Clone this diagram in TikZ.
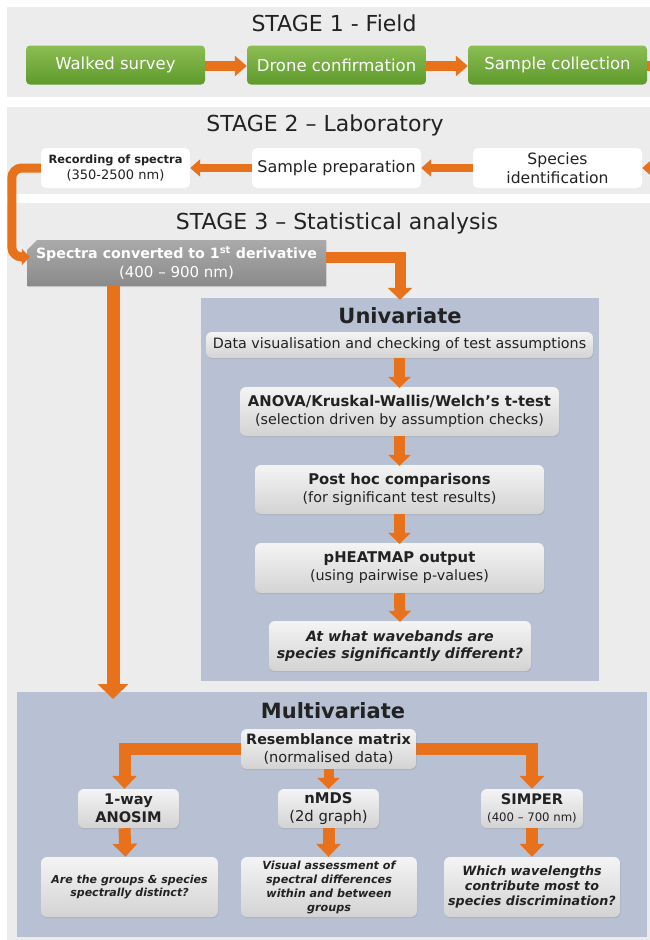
\documentclass[tikz,border=0pt]{standalone}
\usepackage{fontspec}
\setmainfont{DejaVu Sans}
\usetikzlibrary{arrows.meta,shapes.misc,shadows}
\definecolor{stagebg}{HTML}{ECECEC}
\definecolor{panelc}{HTML}{B8C1D4}
\definecolor{orng}{HTML}{E8711C}
\definecolor{gtop}{HTML}{8CBE52}
\definecolor{gbot}{HTML}{5E9A2C}
\definecolor{txt}{HTML}{222222}
\definecolor{boxtop}{HTML}{F4F4F4}
\definecolor{boxbot}{HTML}{D3D3D3}
\definecolor{spectop}{HTML}{AAAAAA}
\definecolor{specbot}{HTML}{8A8A8A}
\tikzset{
 stitle/.style={font=\fontsize{22}{25}\selectfont, text=txt, inner sep=0pt},
 ptitle/.style={font=\bfseries\fontsize{21}{24}\selectfont, text=txt, inner sep=0pt},
 greenbox/.style={rounded corners=4pt, top color=gtop, bottom color=gbot, text=white,
   minimum width=179pt, minimum height=39pt, inner sep=0pt, font=\fontsize{16.5}{19}\selectfont},
 whitebox/.style={fill=white, rounded corners=5pt, text=txt, inner sep=0pt, align=center,
   minimum height=40pt},
 graybox/.style={rounded corners=6pt, top color=boxtop, bottom color=boxbot, text=txt,
   inner sep=0pt, align=center,
   drop shadow={shadow xshift=0.6pt, shadow yshift=-1.2pt, opacity=0.25}},
 panel/.style={fill=panelc, inner sep=0pt},
 oarr/.style={draw=orng, line width=11pt, -{Triangle[width=22pt,length=11pt]}},
}
\begin{document}
\begin{tikzpicture}[x=1pt,y=-1pt]
\useasboundingbox (0,0) rectangle (650,940);
% stage backgrounds
\fill[stagebg] (7,7) rectangle (650,97);
\fill[stagebg] (7,107) rectangle (650,194);
\fill[stagebg] (7,203) rectangle (650,940);
% titles
\node[stitle] (t1) at (334,23) {STAGE 1 - Field};
\node[stitle] (t2) at (325,125) {STAGE 2 – Laboratory};
\node[stitle] (t3) at (337,223) {STAGE 3 – Statistical analysis};
% stage 1
\node[greenbox] (walk) at (115.5,65) {Walked survey};
\node[greenbox] (drone) at (336.5,65) {Drone confirmation};
\node[greenbox] (samp) at (557.5,65) {Sample collection};
\coordinate (off1) at (662,66);
\draw[oarr, line width=10pt, -{Triangle[width=20pt,length=12pt]}] ([yshift=-1pt]walk.east) -- ([yshift=-1pt]drone.west);
\draw[oarr, line width=10pt, -{Triangle[width=20pt,length=12pt]}] ([yshift=-1pt]drone.east) -- ([yshift=-1pt]samp.west);
\draw[draw=orng, line width=10pt] ([yshift=-1pt]samp.east) -- (off1);
% stage 2
\node[whitebox, minimum width=149pt, font=\fontsize{13}{16}\selectfont] (rec) at (115.5,168)
  {{\bfseries\fontsize{11.4}{14}\selectfont Recording of spectra}\\(350-2500 nm)};
\node[whitebox, minimum width=169pt, font=\fontsize{16}{19}\selectfont] (prep) at (336.5,168) {Sample preparation};
\node[whitebox, minimum width=169pt, font=\fontsize{15.6}{19}\selectfont] (spid) at (557.5,168) {Species\\identification};
\coordinate (off2) at (664,168);
\draw[oarr, line width=8pt, -{Triangle[width=17pt,length=10pt]}] (off2) -- (spid.east);
\draw[oarr, line width=8pt, -{Triangle[width=17pt,length=10pt]}] (spid.west) -- (prep.east);
\draw[oarr, line width=8pt, -{Triangle[width=17pt,length=10pt]}] (prep.west) -- (rec.east);
% stage 3
\node[panel, minimum width=398pt, minimum height=383pt] (uni) at (400,489.5) {};
\node[panel, minimum width=630pt, minimum height=245pt] (multi) at (332,814.5) {};
\node[chamfered rectangle, chamfered rectangle corners=north west,
  chamfered rectangle xsep=5pt, chamfered rectangle ysep=5pt,
  top color=spectop, bottom color=specbot, text=white, inner sep=0pt, align=center,
  minimum width=299pt, minimum height=46pt, font=\fontsize{15}{19}\selectfont,
  drop shadow={shadow xshift=0.6pt, shadow yshift=-1.2pt, opacity=0.25}] (spec) at (176.5,263)
  {{\bfseries\fontsize{14.2}{17}\selectfont Spectra converted to 1\textsuperscript{st} derivative}\\(400 – 900 nm)};
\draw[oarr, line width=9pt, -{Triangle[width=16pt,length=8pt]}, rounded corners=10pt]
  (rec.west) -- ++(-29pt,0pt) |- ([yshift=6pt,xshift=3pt]spec.west);
\draw[oarr, -{Triangle[width=24pt,length=12pt]}] ([yshift=6pt]spec.east) -| ([yshift=-2pt]uni.north);
\coordinate (bigend) at (113,699);
\draw[oarr, line width=13pt, -{Triangle[width=30pt,length=15pt]}] (spec.south -| bigend) -- (bigend);
% univariate
\node[ptitle] (unit) at (400,316) {Univariate};
\node[graybox, minimum width=387pt, minimum height=26pt, font=\fontsize{14.3}{17}\selectfont] (dv) at (399.5,345)
  {Data visualisation and checking of test assumptions};
\node[graybox, minimum width=319pt, minimum height=49pt, font=\fontsize{14.3}{18}\selectfont] (anova) at (399.5,411.5)
  {{\bfseries\fontsize{14.8}{18}\selectfont ANOVA/Kruskal-Wallis/Welch’s t-test}\\(selection driven by assumption checks)};
\node[graybox, minimum width=289pt, minimum height=49pt, font=\fontsize{14.3}{18}\selectfont] (post) at (399.5,489.5)
  {{\bfseries\fontsize{14.8}{18}\selectfont Post hoc comparisons}\\(for significant test results)};
\node[graybox, minimum width=289pt, minimum height=50pt, font=\fontsize{14.3}{18}\selectfont] (heat) at (399.5,568)
  {{\bfseries\fontsize{14.8}{18}\selectfont pHEATMAP output}\\(using pairwise p-values)};
\node[graybox, minimum width=262pt, minimum height=50pt, font=\bfseries\itshape\fontsize{14.2}{17.5}\selectfont] (what) at (400,646)
  {At what wavebands are\\species significantly different?};
\draw[oarr] (dv.south) -- ([yshift=-1pt]anova.north);
\draw[oarr] (anova.south) -- ([yshift=-1pt]post.north);
\draw[oarr] (post.south) -- ([yshift=-1pt]heat.north);
\draw[oarr] (heat.south) -- ([yshift=-1pt]what.north);
% multivariate
\node[ptitle] (mult) at (333,711) {Multivariate};
\node[graybox, minimum width=101pt, minimum height=39pt, font=\bfseries\fontsize{14.6}{17.5}\selectfont] (anosim) at (128.5,808.5)
  {1-way\\ANOSIM};
\node[graybox, minimum width=101pt, minimum height=39pt, font=\fontsize{14.8}{17.5}\selectfont] (nmds) at (328.5,808.5)
  {\textbf{nMDS}\\(2d graph)};
\node[graybox, minimum width=102pt, minimum height=39pt, font=\fontsize{14.6}{17.5}\selectfont] (simper) at (532,808.5)
  {\textbf{SIMPER}\\{\fontsize{11.7}{14}\selectfont (400 – 700 nm)}};
\draw[oarr, line width=12pt, -{Triangle[width=24pt,length=13pt]}] (328.5,749) -| ([xshift=-4pt]anosim.north);
\draw[oarr, line width=12pt, -{Triangle[width=24pt,length=13pt]}] (328.5,749) -| (simper.north);
\node[graybox, minimum width=175pt, minimum height=40pt, font=\fontsize{14.6}{17.5}\selectfont] (res) at (328.5,749)
  {{\bfseries\fontsize{14.3}{17.5}\selectfont Resemblance matrix}\\(normalised data)};
\draw[oarr, line width=10pt, -{Triangle[width=22pt,length=11pt]}] (res.south) -- (nmds.north);
\node[graybox, minimum width=177pt, minimum height=60pt, font=\bfseries\itshape\fontsize{11}{13.5}\selectfont] (are) at (129.5,887)
  {Are the groups \& species\\spectrally distinct?};
\node[graybox, minimum width=176pt, minimum height=60pt, font=\bfseries\itshape\fontsize{11.2}{14}\selectfont] (vis) at (329,887)
  {Visual assessment of\\spectral differences\\within and between\\groups};
\node[graybox, minimum width=176pt, minimum height=60pt, font=\bfseries\itshape\fontsize{12.7}{15}\selectfont] (which) at (532,887)
  {Which wavelengths\\contribute most to\\species discrimination?};
\draw[oarr, line width=12pt, -{Triangle[width=24pt,length=13pt]}] ([xshift=-4pt]anosim.south) -- ([xshift=-4pt]are.north);
\draw[oarr, line width=12pt, -{Triangle[width=24pt,length=13pt]}] (nmds.south) -- (nmds.south |- vis.north);
\draw[oarr, line width=12pt, -{Triangle[width=24pt,length=13pt]}] (simper.south) -- (simper.south |- which.north);
\end{tikzpicture}
\end{document}
